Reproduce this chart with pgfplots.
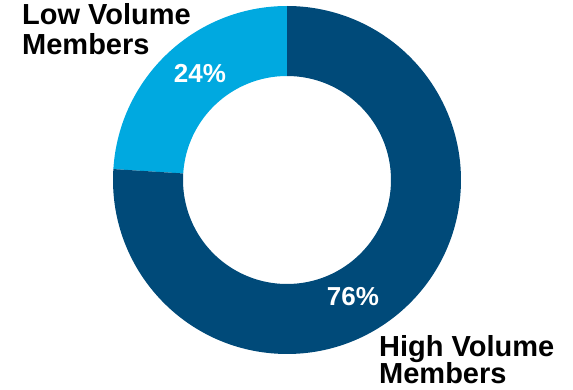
\documentclass[border=0pt]{standalone}
\usepackage{pgfplots}
\pgfplotsset{compat=1.18}
\usepackage{pgfplotstable}
\usepackage{fontspec}
\setmainfont{Liberation Sans}
\definecolor{lowc}{RGB}{0,169,224}
\definecolor{highc}{RGB}{0,74,121}
\pgfplotstableread{
label value
Low 24
High 76
}\donutdata
\begin{document}
\begin{tikzpicture}
\pgfplotstablegetelem{0}{value}\of\donutdata
\pgfmathsetmacro{\lowv}{\pgfplotsretval}
\pgfplotstablegetelem{1}{value}\of\donutdata
\pgfmathsetmacro{\highv}{\pgfplotsretval}
\pgfmathsetmacro{\aStart}{90}
\pgfmathsetmacro{\aMid}{90+\lowv/(\lowv+\highv)*360}
\pgfmathsetmacro{\aEnd}{450}
\begin{axis}[
  x=1pt, y=1pt, xmin=0, xmax=573, ymin=0, ymax=389,
  hide axis, scale only axis, clip=false,
]
\coordinate (bl) at (axis cs:0,0);
\coordinate (tr) at (axis cs:573,389);
\fill[lowc] (axis cs:287,209) ++(\aStart:174pt) arc[start angle=\aStart, end angle=\aMid, radius=174pt] -- ++(\aMid:-70pt) arc[start angle=\aMid, end angle=\aStart, radius=104pt] -- cycle;
\fill[highc] (axis cs:287,209) ++(\aMid:174pt) arc[start angle=\aMid, end angle=\aEnd, radius=174pt] -- ++(\aEnd:-70pt) arc[start angle=\aEnd, end angle=\aMid, radius=104pt] -- cycle;
\node[text=white, font=\fontsize{26}{30}\selectfont\bfseries] at (axis cs:200,315) {24\%};
\node[text=white, font=\fontsize{26}{30}\selectfont\bfseries] at (axis cs:353,92) {76\%};
\node[anchor=base west, inner sep=0pt, font=\fontsize{29}{33}\selectfont\bfseries] at (axis cs:22,364) {Low Volume};
\node[anchor=base west, inner sep=0pt, font=\fontsize{29}{33}\selectfont\bfseries] at (axis cs:22,334.5) {Members};
\node[anchor=base west, inner sep=0pt, font=\fontsize{29}{33}\selectfont\bfseries] at (axis cs:379,33) {High Volume};
\node[anchor=base west, inner sep=0pt, font=\fontsize{29}{33}\selectfont\bfseries] at (axis cs:379,5.5) {Members};
\end{axis}
\pgfresetboundingbox
\useasboundingbox (bl) rectangle (tr);
\end{tikzpicture}%
\end{document}
